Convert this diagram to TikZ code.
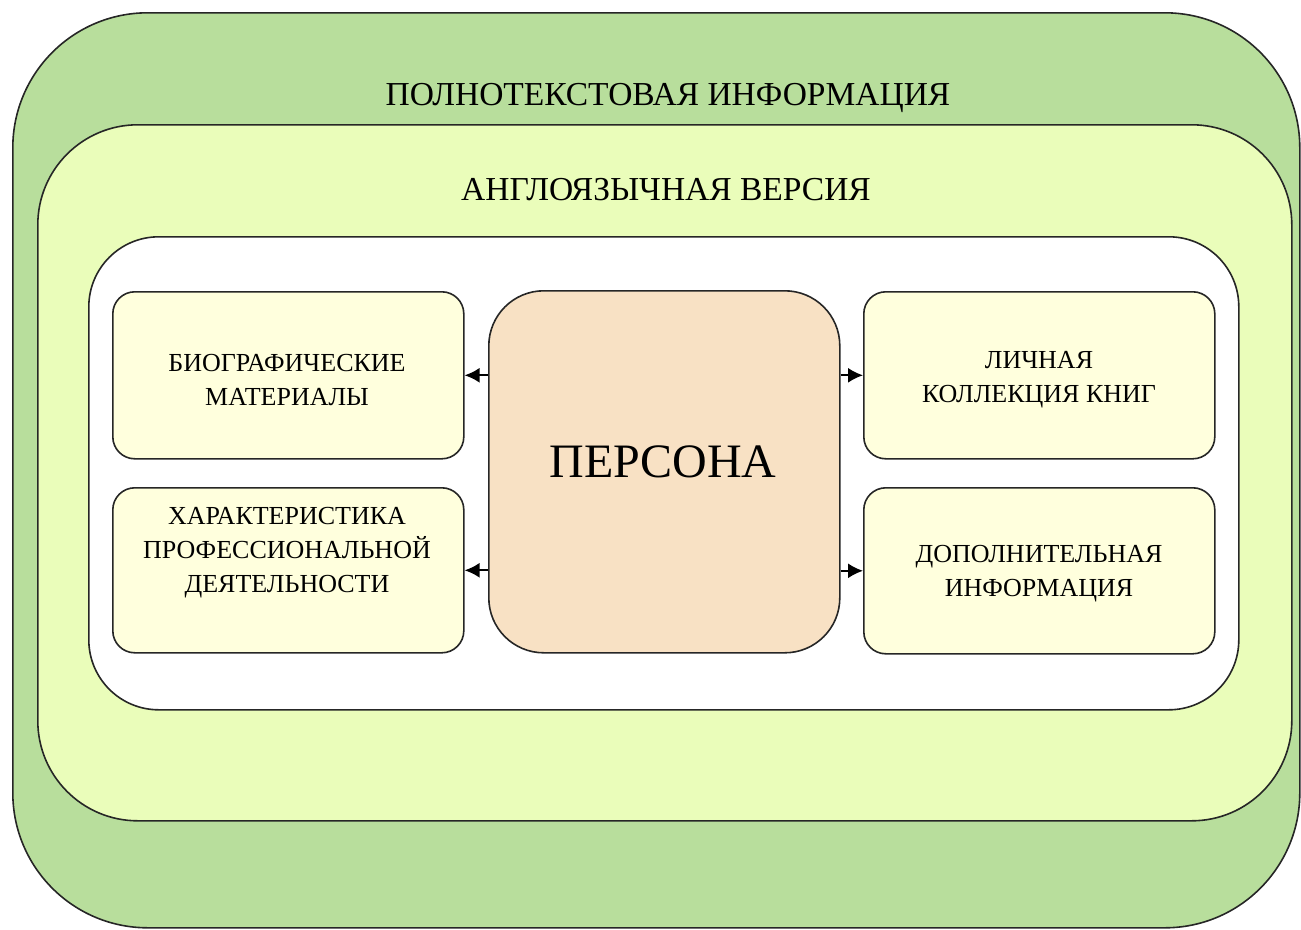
\documentclass[tikz,border=0pt]{standalone}
\usepackage{fontspec}
\setmainfont{Liberation Serif}
\usetikzlibrary{arrows.meta}
\definecolor{outerg}{RGB}{184,222,156}
\definecolor{midg}{RGB}{234,253,186}
\definecolor{boxy}{RGB}{255,255,221}
\definecolor{persc}{RGB}{248,225,196}
\tikzset{
  frame/.style={draw=black!85, line width=1.6pt, anchor=north west, inner sep=0pt},
  itembox/.style={frame, fill=boxy, rounded corners=22pt, minimum width=351pt},
  itemtext/.style={align=center, font=\fontsize{26}{34}\selectfont, inner sep=0pt},
  titletext/.style={anchor=base, font=\fontsize{33.5}{40}\selectfont, inner sep=0pt},
  arr/.style={line width=1.8pt, -{Latex[length=15pt,width=15pt]}}
}
\begin{document}
\begin{tikzpicture}[x=1pt,y=-1pt]
\useasboundingbox (0,0) rectangle (1301,929);
\node[frame, fill=outerg, rounded corners=135pt, minimum width=1287pt, minimum height=915pt] (outer) at (12,12) {};
\node[frame, fill=midg, rounded corners=100pt, minimum width=1254pt, minimum height=696pt] (middle) at (37,124) {};
\node[frame, fill=white, rounded corners=70pt, minimum width=1150pt, minimum height=473pt] (inner) at (88,236) {};
\node[titletext] (t1) at (668,105) {ПОЛНОТЕКСТОВАЯ ИНФОРМАЦИЯ};
\node[titletext] (t2) at (666,200) {АНГЛОЯЗЫЧНАЯ ВЕРСИЯ};
\node[itembox, minimum height=167pt] (bio) at (112,291) {};
\node[itembox, minimum height=165pt] (prof) at (112,487) {};
\node[itembox, minimum height=167pt] (lich) at (863,291) {};
\node[itembox, minimum height=166pt] (dop) at (863,487) {};
\node[frame, fill=persc, rounded corners=55pt, minimum width=351pt, minimum height=362pt] (pers) at (488,290) {};
\node[font=\fontsize{48}{56}\selectfont, inner sep=0pt] (perst) at (663,462) {ПЕРСОНА};
\node[itemtext] (biot) at (287,380) {БИОГРАФИЧЕСКИЕ\\МАТЕРИАЛЫ};
\node[itemtext] (proft) at (287,553) {ХАРАКТЕРИСТИКА\\ПРОФЕССИОНАЛЬНОЙ\\ДЕЯТЕЛЬНОСТИ};
\node[itemtext] (licht) at (1039,380) {ЛИЧНАЯ\\КОЛЛЕКЦИЯ КНИГ};
\node[itemtext] (dopt) at (1039,574) {ДОПОЛНИТЕЛЬНАЯ\\ИНФОРМАЦИЯ};
\draw[arr] (pers.west |- bio.east) -- (bio.east);
\draw[arr] (pers.west |- prof.east) -- (prof.east);
\draw[arr] (pers.east |- lich.west) -- (lich.west);
\draw[arr] (pers.east |- dop.west) -- (dop.west);
\end{tikzpicture}
\end{document}
